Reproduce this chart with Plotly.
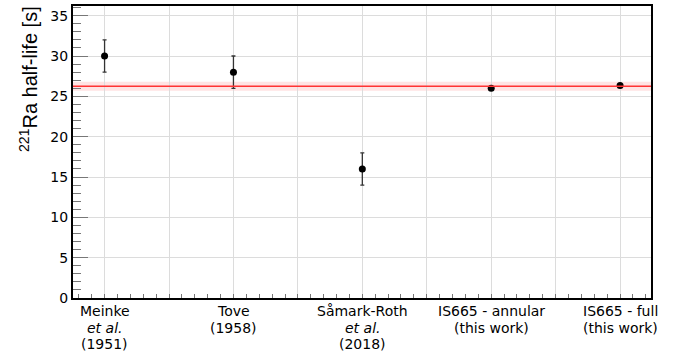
import plotly.graph_objects as go

# ---- data ----
label_lines = [
    ["Meinke", "<i>et al.</i>", "(1951)"],
    ["Tove", "(1958)"],
    ["Såmark-Roth", "<i>et al.</i>", "(2018)"],
    ["IS665 - annular", "(this work)"],
    ["IS665 - full", "(this work)"],
]
x_pos = [0, 1, 2, 3, 4]
half_life = [30.0, 28.0, 16.0, 26.0, 26.35]
half_life_err = [2.0, 2.0, 2.0, 0.1, 0.1]
avg_value = 26.25
avg_err = 0.55

fig = go.Figure()

fig.add_trace(go.Scatter(
    x=x_pos, y=half_life, mode="markers",
    marker=dict(color="black", size=7),
    error_y=dict(type="data", array=half_life_err, visible=True,
                 color="#333333", thickness=1.3, width=2),
    showlegend=False,
))

# average band + line
fig.add_shape(type="rect", xref="paper", x0=0, x1=1, yref="y",
              y0=avg_value - avg_err, y1=avg_value + avg_err,
              fillcolor="rgba(255,0,0,0.11)", line=dict(width=0), layer="below")
fig.add_shape(type="line", xref="paper", x0=0, x1=1, yref="y",
              y0=avg_value, y1=avg_value,
              line=dict(color="#ff3333", width=1.3), layer="above")

# category labels (one annotation per line)
line_shift = [-13, -29.5, -46]
for xi, lines in zip(x_pos, label_lines):
    for k, txt in enumerate(lines):
        fig.add_annotation(x=xi, xref="x", y=0, yref="paper", text=txt,
                           showarrow=False, yanchor="middle", xanchor="center",
                           yshift=line_shift[k],
                           font=dict(family="DejaVu Sans", size=14, color="black"))

# y-axis title
fig.add_annotation(x=-0.078, xref="paper", y=0.75, yref="paper",
                   text="<sup>221</sup>Ra half-life [s]", textangle=-90,
                   showarrow=False, xanchor="center", yanchor="middle",
                   font=dict(family="Liberation Sans", size=20, color="black"))

grid_vals = [v / 2 for v in range(0, 9)]
fig.update_xaxes(
    range=[-0.245, 4.24], tickvals=grid_vals, showticklabels=False,
    showgrid=True, gridcolor="#dcdcdc", gridwidth=1,
    showline=True, linecolor="black", linewidth=2, mirror=True,
    ticks="inside", ticklen=4, tickcolor="#777777", zeroline=False, automargin=False,
    minor=dict(dtick=0.1, tick0=0, ticks="inside", ticklen=4, tickcolor="#777777",
               showgrid=False),
)
fig.update_yaxes(
    range=[0, 36.2], dtick=5, tick0=0,
    showgrid=True, gridcolor="#dcdcdc", gridwidth=1,
    showline=True, linecolor="black", linewidth=2, mirror=True,
    ticks="inside", ticklen=15, tickcolor="#777777", zeroline=False, automargin=False,
    tickfont=dict(family="DejaVu Sans", size=14, color="black"),
    minor=dict(dtick=1, ticks="inside", ticklen=8, tickcolor="#777777", showgrid=False),
)

fig.update_layout(
    width=681, height=356,
    margin=dict(l=73, r=30, t=6, b=58),
    plot_bgcolor="white", paper_bgcolor="white",
)

fig.write_html("out.html", config={"displayModeBar": False},
               post_script="document.body.style.margin='0';document.body.style.overflow='hidden';")
